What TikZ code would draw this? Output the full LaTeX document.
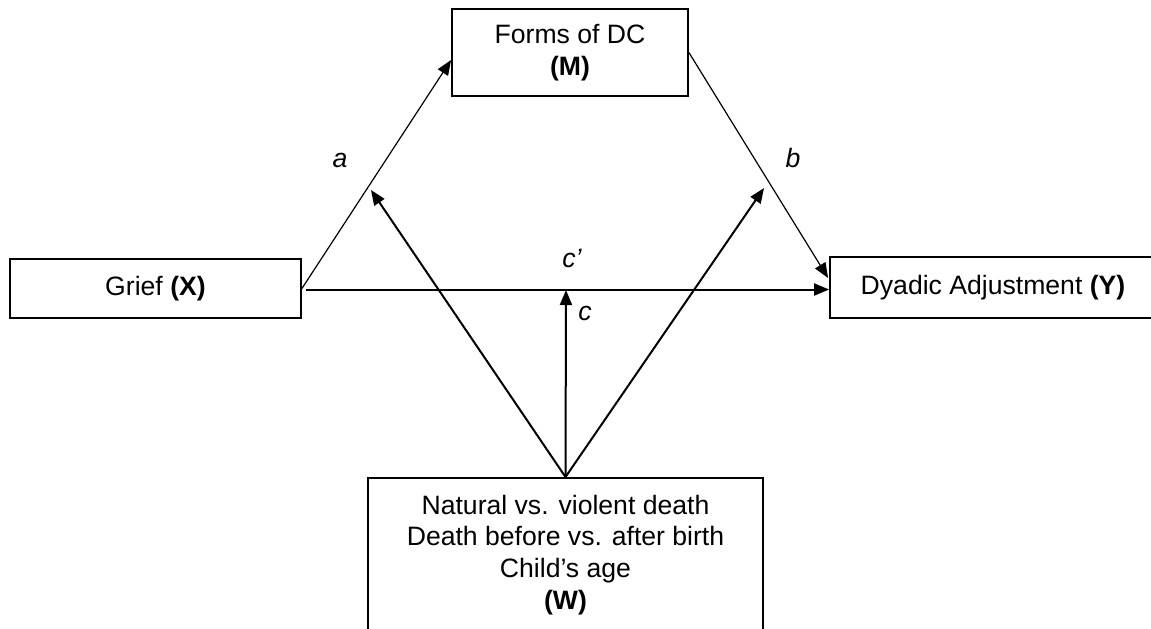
\documentclass[tikz,border=0pt]{standalone}
\usepackage{fontspec}
\setmainfont{Liberation Sans}
\usetikzlibrary{calc,positioning,arrows.meta}

\begin{document}
\begin{tikzpicture}[x=0.5pt,y=-0.5pt,
	box/.style={draw, line width=0.9pt, inner sep=0pt, align=center, font=\fontsize{13.3}{15.85}\selectfont},
	thinarr/.style={-{Triangle[length=7.5pt,width=6pt]}, line width=0.6pt},
	thickarr/.style={-{Triangle[length=7.5pt,width=6pt]}, line width=1pt},
	lbl/.style={font=\fontsize{13.3}{15.85}\selectfont\itshape}]
				\useasboundingbox (0,0) rectangle (1151,628);
				\node[box, minimum width=145.5pt, minimum height=29.5pt] (grief) at (155.5,288.5) {Grief \textbf{(X)}};
				\node[box, minimum width=118pt, minimum height=43.5pt] (forms) at (570,52.5) {Forms of DC\\\textbf{(M)}};
				\node[box, minimum width=163pt, minimum height=30.5pt] (dyadic) at (993,287.5) {Dyadic Adjustment \textbf{(Y)}};
				\node[box, anchor=north, minimum width=197.5pt, inner ysep=8.5pt] (type) at (565.5,477) {Natural vs. violent death\\Death before vs. after birth\\Child’s age\\\textbf{(W)}};
				\coordinate (cs) at ($(grief.east)+(4,1)$);
				\coordinate (ma) at (371,190);
				\coordinate (mb) at (764,188);
				\coordinate (mc) at (566,290);
				\draw[thinarr] (grief.east) -- ($(forms.west)+(0,7.5)$);
				\draw[thinarr] (forms.east) -- ($(dyadic.west)+(-1,-9.5)$);
				\draw[thickarr] (cs) -- (cs -| dyadic.west);
				\draw[thickarr] (type.north) -- (ma);
				\draw[thickarr] (type.north) -- (mb);
				\draw[thickarr] (type.north) -- (mc);
				\node[lbl] (la) at (340,160) {a};
				\node[lbl] (lb) at (793,158) {b};
				\node[lbl] (lcp) at (572,258) {c’};
				\node[lbl] (lc) at (585,313) {c};
			\end{tikzpicture}
\end{document}
